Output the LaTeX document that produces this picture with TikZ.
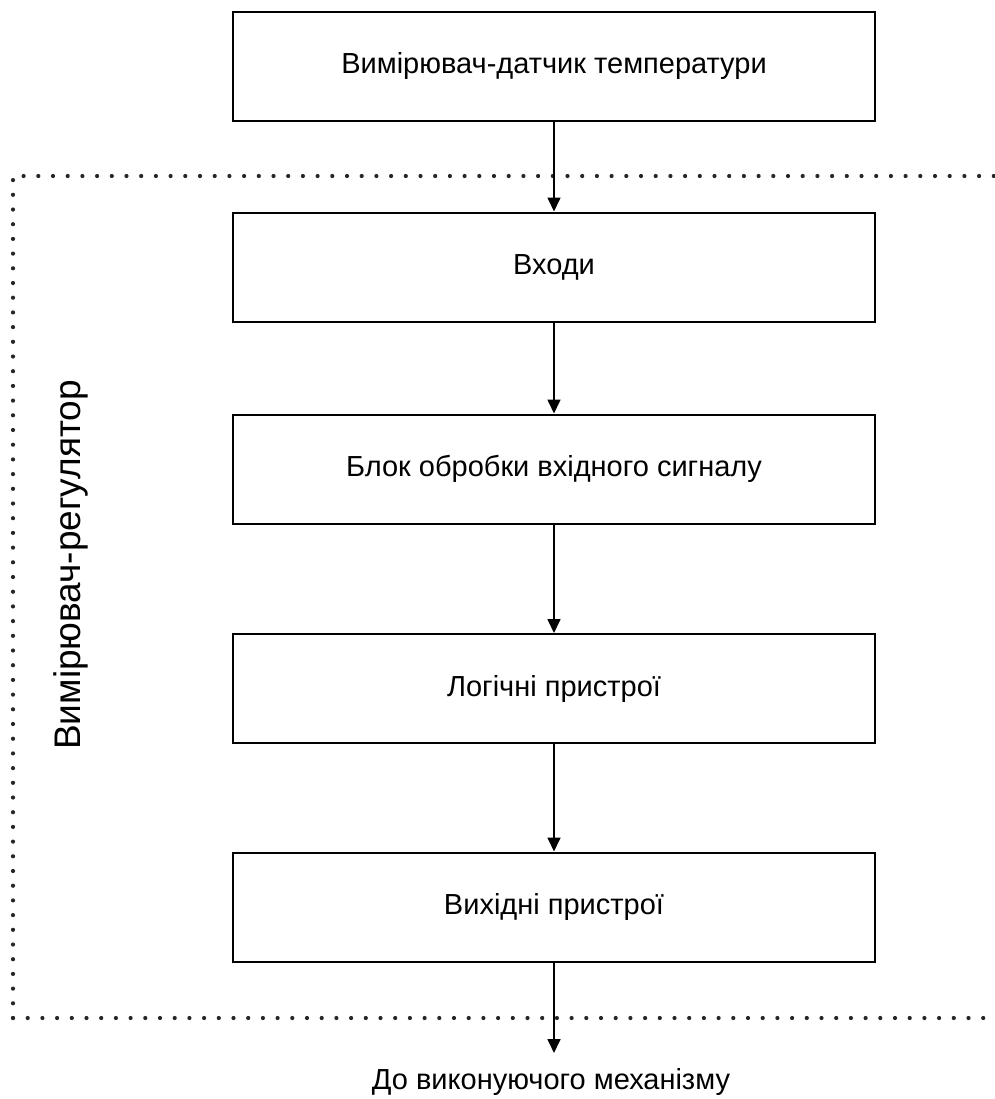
\documentclass[tikz,border=0pt]{standalone}
\usepackage{fontspec}
\setmainfont{Liberation Sans}
\usetikzlibrary{arrows.meta}

\begin{document}
\begin{tikzpicture}[x=0.5pt, y=-0.5pt,
		blok/.style={draw, line width=1pt, minimum width=321pt, minimum height=54.5pt, inner sep=0pt, font=\fontsize{14.5}{17}\selectfont},
		pidpys/.style={inner sep=0pt, font=\fontsize{14.5}{17}\selectfont},
		strilka/.style={line width=0.85pt, -{Triangle[length=7pt,width=6.5pt]}},
		ramka/.style={line width=2.1pt, line cap=round, dash pattern=on 0pt off 7.35pt, black!85}]
		%%%%% START %%%%%
		
		\clip (0, 0) rectangle (995, 1099);
		
		% ramka regulyatora
		\draw[ramka] (13, 1018) -- (13, 176) -- (1010, 176);
		\draw[ramka] (13, 1018) -- (1010, 1018);
		\node[pidpys, rotate=90, font=\fontsize{18.5}{22}\selectfont] (regulyator) at (71, 565) {Вимірювач-регулятор};
		
		\node[blok] (datchyk) at (554, 66) {Вимірювач-датчик температури};
		\node[blok] (vhody) at (554, 267) {Входи};
		\node[blok] (obrobka) at (554, 469) {Блок обробки вхідного сигналу};
		\node[blok] (logika) at (554, 688.5) {Логічні пристрої};
		\node[blok] (vyhody) at (554, 907) {Вихідні пристрої};
		
		\coordinate (kinec) at (554, 1053);
		\node[pidpys] (mehanizm) at (551, 1082) {До виконуючого механізму};
		
		\draw[strilka] (datchyk) -- (vhody);
		\draw[strilka] (vhody) -- (obrobka);
		\draw[strilka] (obrobka) -- (logika);
		\draw[strilka] (logika) -- (vyhody);
		\draw[strilka] (vyhody) -- (kinec);
		
		%%%%% END %%%%%
\end{tikzpicture}
\end{document}
